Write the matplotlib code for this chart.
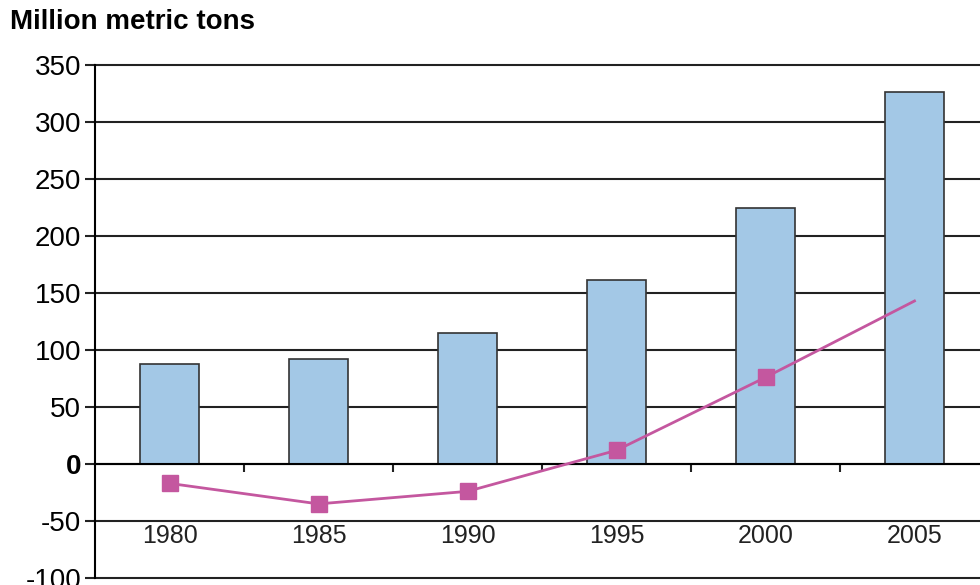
import numpy as np
import matplotlib
matplotlib.use('Agg')
from matplotlib import pyplot as plt

years = ['1980', '1985', '1990', '1995', '2000', '2005']
bar_vals = [88, 92, 115, 161, 225, 326]
line_vals = [-17, -35, -24, 12, 76, 143]
yticks = [-100, -50, 0, 50, 100, 150, 200, 250, 300, 350]

plt.rcParams['font.family'] = ['Liberation Sans', 'DejaVu Sans']

fig = plt.figure(figsize=(9.8, 5.85), dpi=100)
# right edge runs past the figure like in the original
ax = fig.add_axes([95/980, 7/585, 894/980, 513/585])

x = np.arange(len(years))
ax.set_axisbelow(True)
ax.bar(x, bar_vals, width=0.4, color='#a3c8e6', edgecolor='#333333', linewidth=1.2, zorder=2)
ax.plot(x, line_vals, color='#c4579f', linewidth=2, zorder=3)
ax.plot(x[:-1], line_vals[:-1], linestyle='none', marker='s', markersize=11,
        color='#c4579f', zorder=4)

ax.set_xlim(-0.5, 5.5)
ax.set_ylim(-100, 350)
ax.set_yticks(yticks)
ax.set_yticklabels([str(v) for v in yticks], fontsize=20)
for lab in ax.get_yticklabels():
    if lab.get_text() == '0':
        lab.set_fontweight('bold')
ax.yaxis.grid(True, color='#222222', linewidth=1.5, zorder=0, clip_on=False)
for gl in ax.get_ygridlines():
    gl.set_clip_on(False)
ax.tick_params(axis='y', length=7, width=1.5, color='#222222', pad=3)

ax.spines['bottom'].set_position(('data', 0))
ax.spines['bottom'].set_linewidth(1.5)
ax.spines['left'].set_linewidth(1.5)
ax.spines['right'].set_visible(False)
ax.spines['top'].set_visible(False)
ax.set_xticks(x + 0.5)
ax.set_xticklabels([])
ax.tick_params(axis='x', length=6, width=1.5, color='#222222', direction='out')

for xi, yr in zip(x, years):
    ax.text(xi, -53, yr, ha='center', va='top', fontsize=18, color='#222222')

fig.text(10/980, 1 - 22/585, 'Million metric tons', fontsize=20, fontweight='bold',
         va='center', ha='left')

fig.savefig('out.png', dpi=100)
